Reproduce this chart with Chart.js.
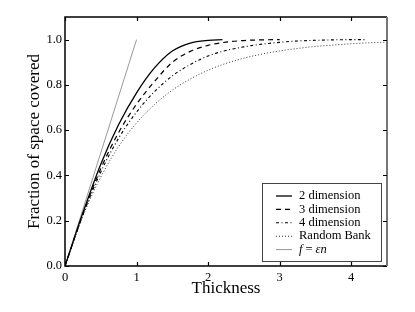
<!DOCTYPE html>
<html>
<head>
<meta charset="utf-8">
<script src="https://cdn.jsdelivr.net/npm/chart.js@4/dist/chart.umd.min.js"></script>
<style>
  html, body { margin: 0; padding: 0; background: #fff; }
  #wrap { width: 415px; height: 312px; }
</style>
</head>
<body>
<div id="wrap"><canvas id="coverChart" width="415" height="312"></canvas></div>
<script>
// values
const dim2X = [0, 0.25, 0.5, 0.75, 1, 1.25, 1.5, 1.75, 2, 2.2];
const dim2Y = [0, 0.235, 0.45, 0.625, 0.765, 0.875, 0.95, 0.985, 0.997, 1.0];

const dim3X = [0, 0.25, 0.5, 0.75, 1, 1.25, 1.5, 1.75, 2, 2.25, 2.5, 2.75, 3];
const dim3Y = [0, 0.23, 0.43, 0.59, 0.715, 0.815, 0.9, 0.948, 0.975, 0.989, 0.996, 0.999, 1.0];

const dim4X = [0, 0.25, 0.5, 0.75, 1, 1.25, 1.5, 1.75, 2, 2.25, 2.5, 2.75, 3, 3.25, 3.5, 3.75, 4, 4.22];
const dim4Y = [0, 0.225, 0.415, 0.565, 0.68, 0.77, 0.84, 0.89, 0.928, 0.952, 0.968, 0.98, 0.988, 0.994, 0.997, 0.999, 1.0, 1.0];

const bankX = [0, 0.25, 0.5, 0.75, 1, 1.25, 1.5, 1.75, 2, 2.25, 2.5, 2.75, 3, 3.25, 3.5, 3.75, 4, 4.25, 4.5];
const bankY = [0, 0.221, 0.393, 0.528, 0.632, 0.713, 0.777, 0.826, 0.865, 0.895, 0.918, 0.936, 0.95, 0.961, 0.97, 0.976, 0.982, 0.986, 0.989];

const lineX = [0, 1];
const lineY = [0, 1];

const xTicks = [0, 1, 2, 3, 4];
const yTicks = [0, 0.2, 0.4, 0.6, 0.8, 1.0];

const serif = '"Liberation Serif", "DejaVu Serif", serif';

function pts(xs, ys) {
    return xs.map((x, i) => ({ x: x, y: ys[i] }));
}

// frame, inward ticks on all sides, and the boxed legend
const framePlugin = {
    id: 'frame',
    afterDatasetsDraw(chart) {
        const ctx = chart.ctx;
        const a = chart.chartArea;
        const xs = chart.scales.x, ys = chart.scales.y;
        const tl = 4;
        ctx.save();
        ctx.lineWidth = 1.5;
        ctx.strokeStyle = '#000';
        ctx.beginPath();
        ctx.moveTo(a.right, a.top);
        ctx.lineTo(a.left, a.top);
        ctx.lineTo(a.left, a.bottom);
        ctx.lineTo(a.right, a.bottom);
        ctx.stroke();
        ctx.strokeStyle = '#777';
        ctx.lineWidth = 2;
        ctx.beginPath();
        ctx.moveTo(a.right, a.top);
        ctx.lineTo(a.right, a.bottom);
        ctx.stroke();

        ctx.lineWidth = 1.2;
        ctx.strokeStyle = '#000';
        ctx.beginPath();
        xTicks.forEach(v => {
            const px = Math.round(xs.getPixelForValue(v)) + 0.5;
            ctx.moveTo(px, a.bottom); ctx.lineTo(px, a.bottom - tl);
            ctx.moveTo(px, a.top); ctx.lineTo(px, a.top + tl);
        });
        yTicks.forEach(v => {
            const py = Math.round(ys.getPixelForValue(v)) + 0.5;
            ctx.moveTo(a.left, py); ctx.lineTo(a.left + tl, py);
            ctx.moveTo(a.right, py); ctx.lineTo(a.right - tl, py);
        });
        ctx.stroke();

        // legend
        const bx = 262, by = 183, bw = 119, bh = 78;
        ctx.fillStyle = '#fff';
        ctx.fillRect(bx, by, bw, bh);
        ctx.lineWidth = 1;
        ctx.strokeStyle = '#444';
        ctx.strokeRect(bx + 0.5, by + 0.5, bw, bh);
        ctx.textBaseline = 'middle';
        ctx.fillStyle = '#000';
        chart.data.datasets.forEach((ds, i) => {
            const y = by + 13 + i * 13.4;
            ctx.save();
            ctx.strokeStyle = ds.borderColor;
            ctx.lineWidth = ds.borderWidth;
            ctx.setLineDash(ds.borderDash || []);
            ctx.beginPath();
            ctx.moveTo(276, y);
            ctx.lineTo(292, y);
            ctx.stroke();
            ctx.restore();
            if (ds.label === 'f = \u03B5n') {
                let x = 299;
                ctx.font = 'italic 12.5px ' + serif;
                ctx.fillText('f', x, y);
                x += ctx.measureText('f').width + 3;
                ctx.font = '12.5px ' + serif;
                ctx.fillText('=', x, y);
                x += ctx.measureText('=').width + 3;
                ctx.font = 'italic 12.5px ' + serif;
                ctx.fillText('\u03B5n', x, y);
            } else {
                ctx.font = '12.5px ' + serif;
                ctx.fillText(ds.label, 299, y);
            }
        });
        ctx.restore();
    }
};

const ctx = document.getElementById('coverChart').getContext('2d');
const coverChart = new Chart(ctx, {
    type: 'scatter',
    data: {
        datasets: [
            { label: '2 dimension', data: pts(dim2X, dim2Y), borderColor: '#000', borderWidth: 1.3 },
            { label: '3 dimension', data: pts(dim3X, dim3Y), borderColor: '#000', borderWidth: 1.2, borderDash: [5, 4] },
            { label: '4 dimension', data: pts(dim4X, dim4Y), borderColor: '#000', borderWidth: 1.1, borderDash: [3, 2.5, 1, 2.5] },
            { label: 'Random Bank', data: pts(bankX, bankY), borderColor: '#333', borderWidth: 1, borderDash: [1, 2] },
            { label: 'f = \u03B5n', data: pts(lineX, lineY), borderColor: '#999', borderWidth: 1 }
        ].map(d => Object.assign({ showLine: true, pointRadius: 0, cubicInterpolationMode: 'monotone', fill: false }, d))
    },
    options: {
        responsive: false,
        animation: false,
        layout: { padding: { left: 0, right: 28, top: 17, bottom: 0 } },
        plugins: { legend: { display: false }, tooltip: { enabled: false } },
        scales: {
            x: {
                type: 'linear',
                min: 0,
                max: 4.5,
                afterBuildTicks: s => { s.ticks = xTicks.map(v => ({ value: v })); },
                afterFit: s => { s.height = 46; },
                grid: { display: false, drawTicks: false },
                border: { display: false },
                ticks: {
                    padding: 4,
                    color: '#000',
                    font: { family: serif, size: 12.5 },
                    callback: v => String(v)
                },
                title: {
                    display: true,
                    text: 'Thickness',
                    color: '#000',
                    font: { family: serif, size: 17 },
                    padding: { top: 0, bottom: 13 }
                }
            },
            y: {
                type: 'linear',
                min: 0,
                max: 1.1,
                afterBuildTicks: s => { s.ticks = yTicks.map(v => ({ value: v })); },
                afterFit: s => { s.width = 65; },
                grid: { display: false, drawTicks: false },
                border: { display: false },
                ticks: {
                    padding: 3,
                    color: '#000',
                    font: { family: serif, size: 12.5 },
                    callback: v => v.toFixed(1)
                },
                title: {
                    display: true,
                    text: 'Fraction of space covered',
                    color: '#000',
                    font: { family: serif, size: 17 },
                    padding: { top: 24, bottom: 0 }
                }
            }
        }
    },
    plugins: [framePlugin]
});
</script>
</body>
</html>
